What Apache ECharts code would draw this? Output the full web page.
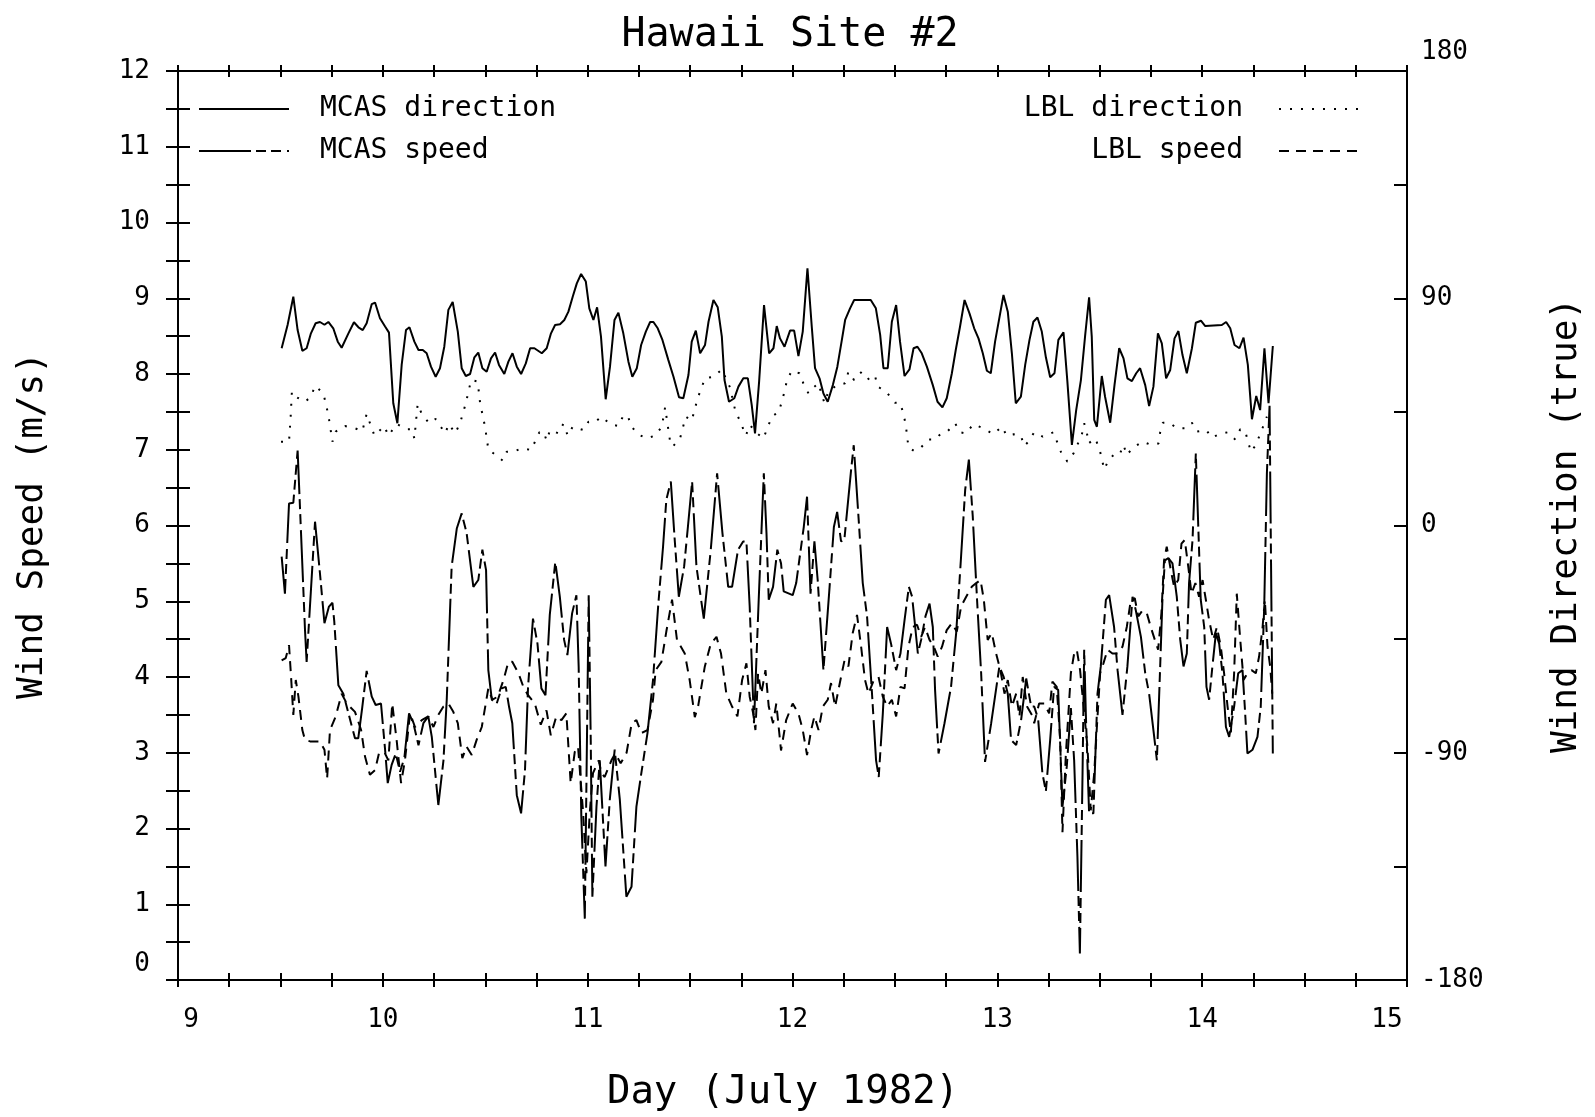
<!DOCTYPE html>
<html>
<head>
<meta charset="utf-8">
<script src="https://cdn.jsdelivr.net/npm/echarts@6/dist/echarts.min.js"></script>
<style>html,body{margin:0;padding:0;background:#fff}#c{width:1595px;height:1117px}</style>
</head>
<body>
<div id="c"></div>
<script>
// [day of July 1982, wind direction in degrees true]
const mcasDirection = [
[9.506,70.2],[9.535,79.4],[9.563,90.6],[9.584,77.4],[9.607,69.2],[9.628,70.2],[9.649,76.1],[9.672,80.1],[9.693,80.6],[9.715,79.5],[9.734,80.6],[9.758,78.1],[9.780,72.8],[9.799,70.4],[9.832,76.1],[9.859,80.5],[9.881,78.5],[9.902,77.4],[9.921,80.1],[9.946,87.7],[9.962,88.3],[9.986,82.1],[10.011,78.8],[10.030,76.4],[10.051,48.4],[10.071,40.5],[10.092,63.6],[10.113,77.4],[10.130,78.5],[10.154,72.8],[10.174,69.5],[10.195,69.5],[10.214,68.2],[10.235,62.9],[10.258,58.9],[10.279,62.3],[10.300,70.8],[10.320,85.4],[10.341,88.5],[10.366,76.8],[10.385,62.3],[10.405,59.2],[10.426,60.0],[10.447,66.6],[10.466,68.5],[10.486,62.3],[10.507,60.9],[10.528,66.2],[10.548,68.5],[10.567,63.6],[10.593,60.0],[10.613,64.9],[10.633,68.2],[10.654,62.9],[10.675,60.0],[10.698,64.2],[10.719,70.2],[10.740,70.2],[10.776,68.2],[10.800,70.2],[10.821,76.1],[10.841,79.4],[10.865,79.7],[10.886,81.4],[10.906,84.7],[10.927,90.6],[10.947,95.9],[10.968,99.6],[10.991,96.6],[11.008,86.0],[11.028,81.4],[11.046,86.4],[11.065,74.8],[11.088,50.0],[11.109,62.9],[11.131,81.4],[11.150,84.3],[11.174,76.1],[11.199,64.9],[11.218,58.9],[11.240,62.3],[11.261,71.5],[11.284,76.8],[11.305,80.6],[11.321,80.6],[11.342,78.1],[11.365,73.5],[11.394,65.5],[11.419,58.9],[11.446,50.8],[11.467,50.4],[11.492,59.6],[11.508,72.8],[11.528,77.2],[11.549,68.2],[11.573,71.5],[11.590,80.7],[11.614,89.3],[11.635,86.4],[11.655,74.8],[11.668,57.6],[11.690,49.0],[11.716,50.4],[11.736,55.0],[11.760,58.3],[11.782,58.3],[11.801,47.7],[11.817,36.5],[11.837,57.0],[11.861,87.3],[11.886,68.2],[11.907,70.2],[11.923,79.0],[11.939,74.1],[11.961,70.8],
[11.988,77.2],[12.008,77.2],[12.029,67.1],[12.050,76.8],[12.073,101.9],[12.094,78.8],[12.110,62.3],[12.132,58.3],[12.151,52.3],[12.172,49.0],[12.197,55.6],[12.219,62.9],[12.241,73.5],[12.257,81.4],[12.281,86.0],[12.301,89.3],[12.382,89.3],[12.407,86.0],[12.428,75.5],[12.444,62.3],[12.465,62.3],[12.485,80.7],[12.506,87.3],[12.525,72.8],[12.547,59.2],[12.571,61.8],[12.591,70.2],[12.610,70.8],[12.631,68.2],[12.656,62.9],[12.685,55.6],[12.708,49.0],[12.732,46.8],[12.753,50.4],[12.778,60.3],[12.797,69.5],[12.818,78.8],[12.840,89.3],[12.864,84.0],[12.887,78.1],[12.908,74.1],[12.929,68.2],[12.949,61.3],[12.968,60.3],[12.989,72.8],[13.011,82.7],[13.030,91.3],[13.051,84.7],[13.071,68.2],[13.090,48.4],[13.115,51.0],[13.136,63.6],[13.157,73.5],[13.176,80.7],[13.196,82.4],[13.217,76.8],[13.237,66.6],[13.258,58.7],[13.279,60.3],[13.298,73.5],[13.323,76.5],[13.342,57.0],[13.364,31.9],[13.385,45.7],[13.408,57.6],[13.429,75.5],[13.448,90.4],[13.461,74.8],[13.473,41.8],[13.486,39.1],[13.510,59.2],[13.526,51.0],[13.551,40.7],[13.572,55.6],[13.595,70.2],[13.616,66.2],[13.635,58.3],[13.657,57.2],[13.678,60.3],[13.697,62.3],[13.722,55.6],[13.741,47.3],[13.762,55.0],[13.784,76.1],[13.803,72.1],[13.824,58.3],[13.844,61.6],[13.865,74.1],[13.884,77.0],[13.904,67.5],[13.925,60.3],[13.950,70.2],[13.969,80.3],[13.994,81.1],[14.015,79.0],[14.096,79.4],[14.117,80.6],[14.137,78.1],[14.158,71.5],[14.182,70.2],[14.202,74.4],[14.223,63.6],[14.243,42.1],[14.264,51.3],[14.283,45.7],[14.304,70.2],[14.324,48.4],[14.345,71.1]
];

const lblDirection = [
[9.503,33.2],[9.542,33.2],[9.550,43.1],[9.556,53.0],[9.579,50.8],[9.620,49.0],[9.649,51.0],[9.669,55.3],[9.710,52.3],[9.734,43.8],[9.754,33.2],[9.770,37.2],[9.815,39.4],[9.864,38.5],[9.900,37.4],[9.921,44.2],[9.959,35.6],[10.007,39.4],[10.027,35.6],[10.068,40.2],[10.116,38.1],[10.141,38.1],[10.154,34.5],[10.170,48.1],[10.190,44.2],[10.226,40.5],[10.258,42.2],[10.304,36.5],[10.323,40.2],[10.353,36.5],[10.377,40.5],[10.405,48.4],[10.431,57.6],[10.463,57.0],[10.475,48.4],[10.499,39.1],[10.515,30.2],[10.545,28.3],[10.585,25.7],[10.605,29.2],[10.637,29.2],[10.678,30.6],[10.724,29.9],[10.764,36.9],[10.784,37.2],[10.800,33.6],[10.816,37.8],[10.857,36.5],[10.881,40.2],[10.903,35.6],[10.927,39.1],[10.979,37.8],[11.004,41.1],[11.033,40.9],[11.069,43.1],[11.109,40.2],[11.150,39.4],[11.174,43.5],[11.196,43.5],[11.212,39.4],[11.244,36.2],[11.288,34.5],[11.329,35.6],[11.362,39.1],[11.378,46.8],[11.402,33.5],[11.415,31.2],[11.451,34.5],[11.479,43.1],[11.508,41.5],[11.537,50.4],[11.573,58.3],[11.614,58.9],[11.655,61.8],[11.695,54.7],[11.720,45.7],[11.752,39.8],[11.772,35.6],[11.793,39.8],[11.817,37.2],[11.858,34.5],[11.899,43.1],[11.934,45.1],[11.961,53.0],
[11.972,57.2],[11.996,61.3],[12.034,60.3],[12.053,56.3],[12.078,52.3],[12.097,54.3],[12.127,56.3],[12.143,51.7],[12.156,48.6],[12.175,53.0],[12.216,55.6],[12.257,56.3],[12.273,60.9],[12.301,57.6],[12.338,60.9],[12.376,57.6],[12.403,59.2],[12.416,55.0],[12.457,53.0],[12.501,48.6],[12.525,48.6],[12.542,44.2],[12.553,39.8],[12.566,31.0],[12.594,29.5],[12.626,30.8],[12.664,34.1],[12.696,34.1],[12.726,36.5],[12.758,37.4],[12.794,40.5],[12.818,36.9],[12.846,36.5],[12.883,40.1],[12.932,38.5],[12.981,36.2],[13.022,39.1],[13.046,35.6],[13.079,36.1],[13.115,35.6],[13.131,31.5],[13.152,33.2],[13.180,36.9],[13.222,35.2],[13.274,36.9],[13.290,33.5],[13.310,29.2],[13.342,25.3],[13.372,28.6],[13.412,35.8],[13.424,40.5],[13.437,36.9],[13.445,32.5],[13.478,34.5],[13.499,30.2],[13.522,22.2],[13.543,25.9],[13.567,27.9],[13.596,27.9],[13.616,31.9],[13.632,27.9],[13.662,30.8],[13.710,33.2],[13.751,31.9],[13.787,32.5],[13.795,36.9],[13.808,40.7],[13.841,40.7],[13.876,38.5],[13.917,38.5],[13.950,40.7],[13.974,37.2],[14.020,37.8],[14.047,34.8],[14.085,36.2],[14.124,36.9],[14.161,34.1],[14.186,38.1],[14.210,37.4],[14.223,33.5],[14.238,29.2],[14.259,31.5],[14.283,36.1],[14.316,43.1]
];

// [day of July 1982, wind speed in m/s]
const mcasSpeed = [
[9.506,5.59],[9.522,5.10],[9.542,6.29],[9.563,6.30],[9.584,6.99],[9.604,5.68],[9.620,4.62],[9.628,4.20],[9.669,6.05],[9.693,5.37],[9.715,4.71],[9.737,4.93],[9.754,4.98],[9.763,4.73],[9.783,3.89],[9.807,3.78],[9.864,3.19],[9.880,3.19],[9.900,3.61],[9.921,4.08],[9.946,3.74],[9.965,3.63],[9.991,3.65],[10.011,3.04],[10.024,2.60],[10.043,2.84],[10.063,2.99],[10.084,2.75],[10.105,2.93],[10.128,3.52],[10.149,3.39],[10.174,3.10],[10.198,3.39],[10.222,3.48],[10.239,3.21],[10.271,2.31],[10.296,2.90],[10.312,3.70],[10.336,5.46],[10.361,5.96],[10.385,6.16],[10.409,5.90],[10.442,5.19],[10.466,5.28],[10.486,5.68],[10.504,5.41],[10.515,4.09],[10.532,3.70],[10.556,3.65],[10.580,3.85],[10.600,3.87],[10.616,3.61],[10.632,3.39],[10.654,2.44],[10.675,2.20],[10.694,2.77],[10.709,3.87],
[10.733,4.77],[10.755,4.44],[10.774,3.85],[10.794,3.76],[10.815,4.82],[10.842,5.52],[10.864,5.06],[10.885,4.49],[10.901,4.29],[10.924,4.84],[10.945,5.08],[10.956,4.14],[10.969,2.16],[10.986,0.81],[11.005,5.08],[11.015,3.17],[11.023,1.10],[11.043,2.29],[11.059,2.90],[11.087,1.50],[11.108,2.38],[11.132,3.04],[11.157,2.38],[11.189,1.10],[11.214,1.23],[11.238,2.29],[11.262,2.73],[11.292,3.26],[11.319,3.96],[11.344,4.93],[11.368,5.72],[11.384,6.34],[11.406,6.58],[11.425,5.81],[11.445,5.06],[11.471,5.46],[11.490,6.00],[11.510,6.58],[11.531,5.46],[11.547,5.15],[11.567,4.77],[11.601,5.68],[11.632,6.69],[11.658,5.90],[11.686,5.19],[11.705,5.19],[11.734,5.68],[11.759,5.79],[11.775,5.79],[11.791,4.93],[11.812,3.39],[11.835,5.02],[11.860,6.69],[11.873,5.90],[11.884,5.02],[11.905,5.19],[11.926,5.68],[11.944,5.50],
[11.957,5.13],[12.001,5.08],[12.018,5.24],[12.055,5.98],[12.071,6.38],[12.088,5.10],[12.107,5.79],[12.123,5.28],[12.151,4.09],[12.180,5.15],[12.202,5.98],[12.218,6.18],[12.237,5.79],[12.253,5.81],[12.286,6.73],[12.299,7.06],[12.322,6.12],[12.343,5.24],[12.364,4.80],[12.387,3.83],[12.408,2.90],[12.421,2.68],[12.441,3.52],[12.462,4.66],[12.481,4.44],[12.506,4.09],[12.527,4.31],[12.547,4.75],[12.568,5.19],[12.584,5.06],[12.599,4.66],[12.612,4.31],[12.628,4.49],[12.649,4.80],[12.669,4.97],[12.685,4.66],[12.696,3.83],[12.713,2.99],[12.742,3.39],[12.774,3.87],[12.799,4.58],[12.823,5.59],[12.843,6.47],[12.861,6.87],[12.880,6.12],[12.901,5.02],[12.921,4.05],[12.940,2.88],[12.970,3.39],[13.010,4.14],[13.031,4.00],[13.051,3.78],[13.067,3.17],[13.092,3.10],[13.116,3.43],[13.141,3.98],[13.165,3.61],
[13.180,3.61],[13.199,3.45],[13.220,2.73],[13.237,2.49],[13.258,3.17],[13.277,3.87],[13.297,3.83],[13.318,2.29],[13.339,2.82],[13.359,3.59],[13.375,2.90],[13.391,1.63],[13.403,0.35],[13.416,2.73],[13.424,4.36],[13.432,3.52],[13.448,2.20],[13.469,2.20],[13.489,3.78],[13.505,4.14],[13.530,5.02],[13.546,5.08],[13.570,4.66],[13.587,4.09],[13.611,3.50],[13.635,4.14],[13.660,5.06],[13.676,4.88],[13.701,4.53],[13.722,4.05],[13.741,3.78],[13.762,3.30],[13.779,2.90],[13.795,4.14],[13.806,5.02],[13.818,5.54],[13.835,5.57],[13.855,5.50],[13.876,5.06],[13.893,4.49],[13.909,4.14],[13.925,4.31],[13.936,5.24],[13.953,5.81],[13.969,6.95],[13.980,6.07],[13.993,5.02],[14.010,4.66],[14.021,3.87],[14.034,3.70],[14.050,4.14],[14.067,4.58],[14.083,4.44],[14.099,4.05],[14.116,3.34],[14.132,3.21],[14.156,3.61],[14.176,4.05],[14.197,4.09],[14.208,3.61],[14.221,2.99],[14.246,3.04],[14.270,3.21],[14.286,3.61],[14.303,4.93],[14.316,6.69],[14.329,7.58],[14.345,2.99]
];

const lblSpeed = [
[9.506,4.22],[9.526,4.25],[9.542,4.42],[9.552,4.00],[9.563,3.50],[9.575,3.96],[9.588,3.74],[9.607,3.30],[9.620,3.17],[9.645,3.15],[9.693,3.15],[9.715,3.04],[9.728,2.66],[9.742,3.30],[9.770,3.48],[9.799,3.78],[9.824,3.65],[9.864,3.54],[9.894,3.30],[9.913,2.95],[9.937,2.71],[9.962,2.77],[9.981,2.99],[10.007,3.01],[10.027,2.90],[10.046,3.65],[10.068,3.15],[10.089,2.60],[10.108,2.90],[10.133,3.52],[10.157,3.34],[10.190,3.43],[10.222,3.48],[10.247,3.34],[10.271,3.50],[10.296,3.61],[10.320,3.65],[10.344,3.54],[10.366,3.39],[10.388,2.93],[10.409,3.08],[10.434,2.97],[10.458,3.17],[10.483,3.34],[10.515,3.85],[10.535,3.70],[10.561,3.74],[10.589,3.96],[10.613,4.20],[10.632,4.20],[10.662,4.05],[10.686,3.87],[10.709,3.76],
[10.742,3.65],[10.771,3.37],[10.799,3.56],[10.820,3.23],[10.847,3.48],[10.872,3.43],[10.896,3.52],[10.917,2.60],[10.937,3.01],[10.953,3.08],[10.978,2.20],[10.994,1.41],[11.010,2.20],[11.026,2.73],[11.054,2.90],[11.067,2.73],[11.083,2.68],[11.116,2.90],[11.135,2.99],[11.161,2.86],[11.190,3.00],[11.215,3.39],[11.238,3.43],[11.262,3.26],[11.292,3.30],[11.319,3.70],[11.332,4.09],[11.360,4.20],[11.384,4.60],[11.412,5.02],[11.436,4.49],[11.474,4.31],[11.498,3.96],[11.523,3.47],[11.539,3.61],[11.572,4.14],[11.601,4.44],[11.629,4.53],[11.651,4.31],[11.677,3.78],[11.705,3.61],[11.731,3.48],[11.754,3.96],[11.775,4.18],[11.791,3.74],[11.808,3.52],[11.819,3.30],[11.832,4.05],[11.848,3.78],[11.868,4.09],[11.884,3.61],[11.905,3.39],[11.921,3.65],[11.944,3.03],
[11.969,3.43],[12.001,3.65],[12.029,3.52],[12.050,3.30],[12.071,2.97],[12.091,3.30],[12.107,3.48],[12.127,3.30],[12.148,3.61],[12.172,3.70],[12.188,3.92],[12.208,3.61],[12.234,3.96],[12.254,4.22],[12.273,4.14],[12.294,4.58],[12.315,4.82],[12.335,4.40],[12.354,3.96],[12.371,3.78],[12.397,3.96],[12.420,4.00],[12.441,3.74],[12.462,3.61],[12.485,3.70],[12.506,3.48],[12.527,3.87],[12.547,3.85],[12.566,4.40],[12.587,4.66],[12.608,4.69],[12.628,4.53],[12.647,4.66],[12.669,4.49],[12.690,4.40],[12.709,4.27],[12.730,4.40],[12.753,4.62],[12.778,4.71],[12.802,4.60],[12.823,4.93],[12.848,5.06],[12.875,5.19],[12.897,5.24],[12.918,5.28],[12.934,5.02],[12.953,4.49],[12.973,4.58],[12.994,4.31],[13.015,4.09],[13.035,3.78],[13.051,3.96],[13.071,3.61],[13.092,3.78],[13.108,3.48],[13.124,4.00],[13.145,3.61],[13.173,3.48],
[13.180,3.39],[13.204,3.65],[13.229,3.65],[13.253,3.52],[13.269,3.94],[13.290,3.87],[13.307,3.17],[13.318,1.95],[13.334,2.95],[13.359,4.05],[13.375,4.31],[13.388,4.36],[13.404,4.09],[13.421,3.61],[13.440,3.08],[13.456,2.24],[13.473,2.73],[13.486,3.34],[13.502,4.05],[13.518,4.18],[13.538,4.36],[13.562,4.31],[13.587,4.31],[13.611,4.40],[13.632,4.66],[13.652,5.02],[13.671,5.04],[13.688,4.80],[13.709,4.88],[13.730,4.84],[13.749,4.66],[13.769,4.49],[13.785,4.36],[13.801,4.84],[13.814,5.54],[13.827,5.72],[13.847,5.41],[13.863,5.19],[13.883,5.28],[13.899,5.76],[13.915,5.81],[13.932,5.46],[13.948,5.10],[13.967,5.24],[13.985,5.06],[14.002,5.28],[14.018,5.02],[14.034,4.75],[14.054,4.49],[14.072,4.66],[14.091,4.40],[14.107,4.05],[14.124,3.61],[14.140,3.26],[14.156,4.05],[14.169,5.10],[14.186,4.49],[14.202,3.96],[14.221,4.05],[14.241,4.09],[14.262,4.05],[14.278,4.27],[14.295,4.66],[14.306,5.02],[14.319,4.40],[14.332,4.14],[14.342,3.78]
];

const seriesNames = ['MCAS direction', 'MCAS speed', 'LBL direction', 'LBL speed'];

const FONT = 'DejaVu Sans Mono';
const BLACK = '#000';
const lineW = 2;
const tickStyle = {color: BLACK, width: lineW};

function xAxisDef(gridIndex, position, inside, len, withLabels) {
  const ax = {
    type: 'value', gridIndex: gridIndex, position: position, min: 9, max: 15, interval: 1,
    axisLine: {show: true, onZero: false, lineStyle: {color: BLACK, width: lineW}},
    axisTick: {show: true, inside: inside, length: len, lineStyle: tickStyle},
    minorTick: {show: true, splitNumber: 4, length: len, lineStyle: tickStyle},
    splitLine: {show: false}, minorSplitLine: {show: false},
    axisLabel: {show: false}
  };
  if (withLabels) {
    ax.axisLabel = {
      show: true, margin: 27, color: BLACK, fontFamily: FONT, fontSize: 26,
      formatter: function (v) {
        if (v === 9) return '{a|9}';
        if (v === 15) return '{b|15}';
        return String(v);
      },
      rich: {
        a: {fontFamily: FONT, fontSize: 26, color: BLACK, padding: [0, 0, 0, 26]},
        b: {fontFamily: FONT, fontSize: 26, color: BLACK, padding: [0, 40, 0, 0]}
      }
    };
    ax.name = 'Day (July 1982)';
    ax.nameLocation = 'middle';
    ax.nameGap = 93;
    ax.nameTextStyle = {fontFamily: FONT, fontSize: 39, color: BLACK, padding: [0, 19, 0, 0]};
  }
  return ax;
}

const chart = echarts.init(document.getElementById('c'), null, {renderer: 'canvas'});

const gridRect = {left: 178, right: 188, top: 71, bottom: 137, containLabel: false};

const option = {
  backgroundColor: '#fff',
  animation: false,
  title: {
    text: 'Hawaii Site #2', left: 785, top: 11, textAlign: 'center',
    textStyle: {fontFamily: FONT, fontSize: 40, fontWeight: 'normal', color: BLACK}
  },
  legend: [
    {
      data: [seriesNames[0], seriesNames[1]], orient: 'vertical', left: 193, top: 90,
      itemWidth: 90, itemHeight: 14, itemGap: 14, align: 'left',
      itemStyle: {color: 'rgba(0,0,0,0)', borderWidth: 0, opacity: 0},
      textStyle: {fontFamily: FONT, fontSize: 28, color: BLACK, padding: [0, 0, 0, 26]},
      selectedMode: false
    },
    {
      data: [seriesNames[2], seriesNames[3]], orient: 'vertical', right: 225, top: 90,
      itemWidth: 85, itemHeight: 14, itemGap: 14, align: 'right',
      itemStyle: {color: 'rgba(0,0,0,0)', borderWidth: 0, opacity: 0},
      textStyle: {fontFamily: FONT, fontSize: 28, color: BLACK, padding: [0, 31, 0, 0]},
      selectedMode: false
    }
  ],
  grid: [
    Object.assign({}, gridRect),
    Object.assign({}, gridRect)
  ],
  xAxis: [
    xAxisDef(0, 'bottom', false, 7, true),
    xAxisDef(0, 'top', false, 6, false),
    xAxisDef(1, 'bottom', true, 7, false),
    xAxisDef(1, 'top', true, 6, false)
  ],
  yAxis: [
    {
      type: 'value', gridIndex: 0, position: 'left', min: 0, max: 12, interval: 1,
      name: 'Wind Speed (m/s)', nameLocation: 'middle', nameGap: 127,
      nameTextStyle: {fontFamily: FONT, fontSize: 36, color: BLACK},
      axisLine: {show: true, onZero: false, lineStyle: {color: BLACK, width: lineW}},
      axisTick: {show: true, inside: false, length: 12, lineStyle: tickStyle},
      minorTick: {show: true, splitNumber: 2, length: 12, lineStyle: tickStyle},
      splitLine: {show: false}, minorSplitLine: {show: false},
      axisLabel: {
        show: true, margin: 28, color: BLACK, fontFamily: FONT, fontSize: 26,
        formatter: function (v) { return v === 0 ? '{a|0}' : String(v); },
        rich: {a: {fontFamily: FONT, fontSize: 26, color: BLACK, padding: [0, 0, 32, 0]}}
      }
    },
    {
      type: 'value', gridIndex: 0, position: 'right', min: -180, max: 180, interval: 90,
      name: 'Wind Direction (true)', nameLocation: 'middle', nameGap: 142, nameRotate: 90,
      nameTextStyle: {fontFamily: FONT, fontSize: 36, color: BLACK},
      axisLine: {show: true, onZero: false, lineStyle: {color: BLACK, width: lineW}},
      axisTick: {show: true, inside: true, length: 13, lineStyle: tickStyle},
      minorTick: {show: true, splitNumber: 2, length: 13, lineStyle: tickStyle},
      splitLine: {show: false}, minorSplitLine: {show: false},
      axisLabel: {
        show: true, margin: 14, color: BLACK, fontFamily: FONT, fontSize: 26,
        formatter: function (v) { return v === 180 ? '{a|180}' : String(v); },
        rich: {a: {fontFamily: FONT, fontSize: 26, color: BLACK, padding: [0, 0, 37, 0]}}
      }
    },
    {
      type: 'value', gridIndex: 1, position: 'left', min: 0, max: 12, interval: 1,
      axisLine: {show: false},
      axisTick: {show: true, inside: true, length: 12, lineStyle: tickStyle},
      minorTick: {show: true, splitNumber: 2, length: 12, lineStyle: tickStyle},
      splitLine: {show: false}, minorSplitLine: {show: false},
      axisLabel: {show: false}
    }
  ],
  series: [
    {
      name: seriesNames[0], type: 'line', xAxisIndex: 0, yAxisIndex: 1, data: mcasDirection,
      symbol: 'none', showSymbol: false, itemStyle: {color: BLACK},
      lineStyle: {color: BLACK, width: lineW, type: 'solid'}
    },
    {
      name: seriesNames[1], type: 'line', xAxisIndex: 0, yAxisIndex: 0, data: mcasSpeed,
      symbol: 'none', showSymbol: false, itemStyle: {color: BLACK},
      lineStyle: {color: BLACK, width: lineW, type: [52, 5, 10, 5, 10, 6]}
    },
    {
      name: seriesNames[2], type: 'line', xAxisIndex: 0, yAxisIndex: 1, data: lblDirection,
      symbol: 'none', showSymbol: false, itemStyle: {color: BLACK},
      lineStyle: {color: BLACK, width: lineW, type: [2, 9]}
    },
    {
      name: seriesNames[3], type: 'line', xAxisIndex: 0, yAxisIndex: 0, data: lblSpeed,
      symbol: 'none', showSymbol: false, itemStyle: {color: BLACK},
      lineStyle: {color: BLACK, width: lineW, type: [10, 7]}
    }
  ]
};

chart.setOption(option);
</script>
</body>
</html>
